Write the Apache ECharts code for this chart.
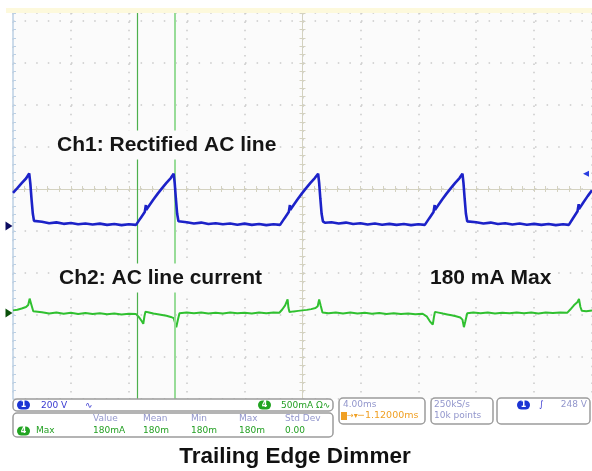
<!DOCTYPE html>
<html>
<head>
<meta charset="utf-8">
<script src="https://cdn.jsdelivr.net/npm/echarts@6/dist/echarts.min.js"></script>
<style>
  html, body { margin: 0; padding: 0; background: #fff; }
  #main { width: 592px; height: 471px; }
</style>
</head>
<body>
<div id="main"></div>
<script>
// time in ms from screen centre (4 ms/div), Ch1 in volts, Ch2 in mA
var ch1Scale = 200;   // V/div
var ch1Offset = -0.88; // div, ground marker
var ch2Scale = 500;   // mA/div
var ch2Offset = -2.95;
var trigLevel = 248;  // V
var cursorTimes = [-11.45, -8.83];

var ch1Points = [
  [-20.0, 158], [-19.7, 180], [-19.4, 204], [-19.1, 226], [-18.88, 250],
  [-18.8, 200], [-18.72, 128], [-18.63, 58], [-18.55, 24], [-18.45, 16],
  [-18.0, 20], [-17.5, 13], [-17.0, 17], [-16.5, 10], [-16.0, 14], [-15.5, 8], [-15.0, 12],
  [-14.5, 7], [-14.0, 11], [-13.5, 5], [-13.0, 9], [-12.5, 4], [-12.0, 8], [-11.5, 5],
  [-11.2, 36], [-10.9, 66], [-10.84, 72], [-10.82, 100], [-10.8, 76], [-10.6, 96],
  [-10.3, 126], [-10.0, 154], [-9.7, 180], [-9.4, 205], [-9.1, 228], [-8.9, 249],
  [-8.83, 205], [-8.75, 132], [-8.66, 58], [-8.57, 22], [-8.45, 15],
  [-8.0, 18], [-7.5, 12], [-7.0, 16], [-6.5, 9], [-6.0, 13], [-5.5, 8], [-5.0, 12],
  [-4.5, 6], [-4.0, 11], [-3.5, 5], [-3.0, 9], [-2.5, 4], [-2.0, 8], [-1.55, 5],
  [-1.25, 36], [-0.95, 66], [-0.89, 72], [-0.87, 100], [-0.85, 76], [-0.65, 96],
  [-0.35, 126], [-0.05, 154], [0.25, 180], [0.55, 205], [0.85, 228], [1.08, 249],
  [1.15, 205], [1.23, 132], [1.32, 58], [1.41, 22], [1.55, 15],
  [2.0, 18], [2.5, 12], [3.0, 16], [3.5, 9], [4.0, 13], [4.5, 7], [5.0, 12],
  [5.5, 6], [6.0, 10], [6.5, 5], [7.0, 9], [7.5, 4], [8.0, 8], [8.45, 5],
  [8.75, 36], [9.05, 66], [9.11, 72], [9.13, 100], [9.15, 76], [9.35, 96],
  [9.65, 126], [9.95, 154], [10.25, 180], [10.55, 205], [10.85, 228], [11.05, 249],
  [11.12, 205], [11.2, 132], [11.29, 58], [11.38, 22], [11.5, 15],
  [12.0, 18], [12.5, 12], [13.0, 16], [13.5, 9], [14.0, 13], [14.5, 7], [15.0, 12],
  [15.5, 6], [16.0, 10], [16.5, 5], [17.0, 9], [17.5, 4], [18.0, 8], [18.4, 5],
  [18.7, 38], [19.0, 70], [19.06, 76], [19.08, 104], [19.1, 80], [19.4, 112],
  [19.7, 142], [20.0, 170]
];

var ch2Points = [
  [-20.0, 30], [-19.7, 38], [-19.4, 52], [-19.1, 70], [-18.95, 95], [-18.85, 170],
  [-18.75, 110], [-18.6, 20], [-18.5, 0],
  [-18.0, 8], [-17.5, -6], [-17.0, 5], [-16.5, -10], [-16.0, 2], [-15.5, -12], [-15.0, 0],
  [-14.5, -14], [-14.0, -4], [-13.5, -16], [-13.0, -6], [-12.5, -18], [-12.0, -10], [-11.5, -14],
  [-11.3, -50], [-11.1, -100], [-11.0, -130], [-10.92, -40], [-10.85, 15], [-10.6, 5],
  [-10.3, -8], [-10.0, -15], [-9.7, -25], [-9.4, -35], [-9.1, -48], [-8.9, -62],
  [-8.8, -120], [-8.72, -170], [-8.62, -90], [-8.5, -5],
  [-8.0, 6], [-7.5, -5], [-7.0, 4], [-6.5, -8], [-6.0, 2], [-5.5, -6], [-5.0, 5],
  [-4.5, -4], [-4.0, 3], [-3.5, -7], [-3.0, 6], [-2.5, -3], [-2.0, 5], [-1.6, 2],
  [-1.4, 40], [-1.2, 90], [-1.03, 160], [-0.97, 60], [-0.9, 10], [-0.6, 18], [-0.3, 24],
  [0.0, 30], [0.3, 36], [0.6, 45], [0.9, 58], [1.05, 80], [1.15, 160], [1.25, 90], [1.38, 5],
  [1.8, -4], [2.3, 6], [2.8, -6], [3.3, 4], [3.8, -8], [4.3, 2], [4.8, -10],
  [5.3, -2], [5.8, -12], [6.3, -4], [6.8, -14], [7.3, -6], [7.8, -16], [8.3, -10],
  [8.6, -45], [8.8, -100], [9.0, -140], [9.08, -50], [9.15, 12], [9.4, 3], [9.7, -8],
  [10.0, -18], [10.3, -28], [10.6, -40], [10.9, -55], [11.05, -80], [11.15, -170],
  [11.25, -100], [11.38, -5],
  [11.8, 6], [12.3, -4], [12.8, 5], [13.3, -6], [13.8, 3], [14.3, -5], [14.8, 6],
  [15.3, -3], [15.8, 4], [16.3, -6], [16.8, 5], [17.3, -2], [17.8, 6], [18.3, 3],
  [18.5, 40], [18.75, 90], [19.0, 130], [19.1, 165], [19.2, 70], [19.3, 25],
  [19.6, 20], [20.0, 28]
];

function toDiv(points, off, scale) {
  return points.map(function (p) { return [p[0], off + p[1] / scale]; });
}

var chart = echarts.init(document.getElementById('main'), null, { renderer: 'canvas' });

var axisCol = '#d4d2c0';
var dotCol = '#cacaca';

var centerX = function (pos) {
  return {
    type: 'value', min: -20, max: 20, interval: 4, position: pos,
    axisLine: { show: true, onZero: true, onZeroAxisIndex: 0, lineStyle: { color: axisCol, width: 1 } },
    axisTick: { show: true, inside: true, length: 3, lineStyle: { color: axisCol } },
    minorTick: { show: true, splitNumber: 5, length: 3, lineStyle: { color: axisCol } },
    axisLabel: { show: false },
    splitLine: { show: false }
  };
};
var centerY = function (pos) {
  return {
    type: 'value', min: -5, max: 4.19, interval: 1, position: pos,
    axisLine: { show: true, onZero: true, onZeroAxisIndex: 0, lineStyle: { color: axisCol, width: 1 } },
    axisTick: { show: true, inside: true, length: 3, lineStyle: { color: axisCol } },
    minorTick: { show: true, splitNumber: 5, length: 3, lineStyle: { color: axisCol } },
    axisLabel: { show: false },
    splitLine: { show: false }
  };
};

var xMain = centerX('bottom');
xMain.splitLine = { show: true, lineStyle: { color: dotCol, width: 1.5, type: [1.5, 6.9] } };
var yMain = centerY('left');
yMain.splitLine = { show: true, lineStyle: { color: dotCol, width: 1.5, type: [1.5, 10.1] } };
var yBorder = centerY('left');
yBorder.axisLine = { show: true, onZero: false, lineStyle: { color: '#bcd0e4', width: 1.5 } };
yBorder.axisTick = { show: true, inside: true, length: 3, lineStyle: { color: '#bcd0e4' } };
yBorder.minorTick = { show: true, splitNumber: 5, length: 3, lineStyle: { color: '#bcd0e4' } };

var small = '9px "DejaVu Sans"';
function txt(x, y, s, col, font, align) {
  return { type: 'text', x: x, y: y, z: 100,
    style: { text: s, fill: col, font: font || small, align: align || 'left', verticalAlign: 'middle' } };
}
function box(x, y, w, h) {
  return { type: 'rect', z: 90, shape: { x: x, y: y, width: w, height: h, r: 4 },
    style: { fill: '#ffffff', stroke: '#9c9c9c', lineWidth: 1.5 } };
}
function pill(x, y, s, col) {
  return [
    { type: 'rect', z: 95, shape: { x: x, y: y, width: 13, height: 9, r: 4.5 }, style: { fill: col } },
    { type: 'text', z: 96, x: x + 6.5, y: y + 4.8,
      style: { text: s, fill: '#fff', font: 'bold 8px "DejaVu Sans"', align: 'center', verticalAlign: 'middle' } }
  ];
}
function label(x, y, s) {
  return { type: 'text', x: x, y: y, z: 100,
    style: { text: s, fill: '#151515', font: 'bold 21px "Liberation Sans", Arial', align: 'left',
      verticalAlign: 'middle', backgroundColor: '#fbfbfb', padding: [4, 2] } };
}

var blueTxt = '#3838d0', greyBlue = '#9296cc', green = '#24a024', orange = '#f0a024';

var graphics = [
  { type: 'rect', z: 1, shape: { x: 6, y: 8, width: 586, height: 5 }, style: { fill: '#fdf9dc' } },
  label(55, 145, 'Ch1: Rectified AC line'),
  label(57, 278, 'Ch2: AC line current'),
  label(428, 278, '180 mA Max'),
  box(13, 399, 320, 12),
  box(13, 413, 320, 24),
  box(339, 398, 86, 26),
  box(431, 398, 62, 26),
  box(497, 398, 93, 26),
  txt(41, 405.5, '200 V', blueTxt),
  txt(85, 405.5, '∿', blueTxt),
  txt(281, 405.5, '500mA Ω∿', green),
  txt(93, 419, 'Value', greyBlue),
  txt(143, 419, 'Mean', greyBlue),
  txt(191, 419, 'Min', greyBlue),
  txt(239, 419, 'Max', greyBlue),
  txt(285, 419, 'Std Dev', greyBlue),
  txt(36, 431, 'Max', green),
  txt(93, 431, '180mA', green),
  txt(143, 431, '180m', green),
  txt(191, 431, '180m', green),
  txt(239, 431, '180m', green),
  txt(285, 431, '0.00', green),
  txt(343, 405, '4.00ms', greyBlue),
  { type: 'rect', z: 95, shape: { x: 341, y: 412, width: 6, height: 8 }, style: { fill: orange } },
  txt(347, 416, '→▾', orange, '8px "DejaVu Sans"'),
  txt(357, 416, '−1.12000ms', orange, '9.5px "DejaVu Sans"'),
  txt(434, 405, '250kS/s', greyBlue),
  txt(434, 416, '10k points', greyBlue),
  txt(539, 405, '∫', blueTxt),
  txt(587, 405, '248 V', greyBlue, small, 'right'),
  { type: 'text', x: 295, y: 457, z: 100,
    style: { text: 'Trailing Edge Dimmer', fill: '#111', font: 'bold 22.5px "Liberation Sans", Arial',
      align: 'center', verticalAlign: 'middle' } }
].concat(pill(17, 400.5, '1', '#1c34d4'), pill(258, 400.5, '4', '#22a422'),
  pill(17, 426.5, '4', '#22a422'), pill(517, 400.5, '1', '#1c34d4'));

var option = {
  animation: false,
  backgroundColor: '#ffffff',
  grid: { left: 13, top: 13, width: 580, height: 386, show: true, backgroundColor: '#fbfbfb', borderWidth: 0 },
  xAxis: [xMain, centerX('top')],
  yAxis: [yMain, centerY('right'), yBorder],
  series: [
    {
      name: 'Ch1', type: 'line', showSymbol: false, z: 5,
      data: toDiv(ch1Points, ch1Offset, ch1Scale),
      lineStyle: { color: '#1c22c8', width: 2.6 },
      markLine: {
        silent: true, symbol: 'none', label: { show: false },
        data: [
          { xAxis: cursorTimes[0], lineStyle: { color: '#4cb04c', width: 1.2, type: 'solid' } },
          { xAxis: cursorTimes[1], lineStyle: { color: '#98dc98', width: 2, type: 'solid' } }
        ]
      },
      markPoint: {
        silent: true, label: { show: false },
        data: [
          { coord: [-20, ch1Offset], symbol: 'path://M0,0L10,5L0,10Z', symbolSize: [7, 9],
            symbolOffset: [-4, 0], itemStyle: { color: '#0c0c60' } },
          { coord: [20, ch1Offset + trigLevel / ch1Scale], symbol: 'path://M10,0L0,5L10,10Z',
            symbolSize: [6, 6], symbolOffset: [-6, 0], itemStyle: { color: '#2a3ee0' } }
        ]
      }
    },
    {
      name: 'Ch2', type: 'line', showSymbol: false, z: 4,
      data: toDiv(ch2Points, ch2Offset, ch2Scale),
      lineStyle: { color: '#30c030', width: 2 },
      markPoint: {
        silent: true, label: { show: false },
        data: [
          { coord: [-20, ch2Offset], symbol: 'path://M0,0L10,5L0,10Z', symbolSize: [7, 9],
            symbolOffset: [-4, 0], itemStyle: { color: '#0a500a' } }
        ]
      }
    }
  ],
  graphic: graphics
};

chart.setOption(option);
</script>
</body>
</html>
